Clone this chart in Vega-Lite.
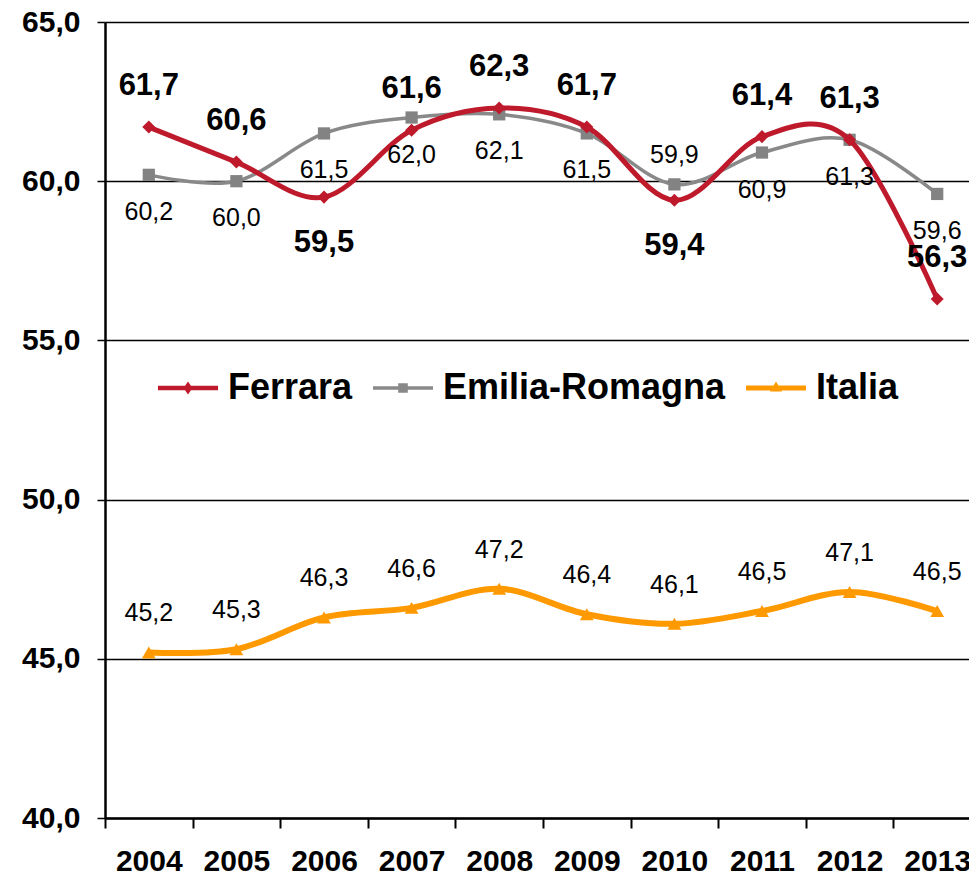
{
  "$schema": "https://vega.github.io/schema/vega-lite/v6.json",
  "width": 864,
  "height": 796,
  "autosize": {"type": "none"},
  "padding": {"left": 105, "top": 22, "right": 0, "bottom": 63},
  "background": "white",
  "config": {
    "locale": {"number": {"decimal": ",", "thousands": ".", "grouping": [3], "currency": ["", " €"]}},
    "view": {"stroke": null},
    "font": "Liberation Sans"
  },
  "data": {
    "values": [
      {"serie": "Italia", "anno": "2004", "valore": 45.2},
      {"serie": "Italia", "anno": "2005", "valore": 45.3},
      {"serie": "Italia", "anno": "2006", "valore": 46.3},
      {"serie": "Italia", "anno": "2007", "valore": 46.6},
      {"serie": "Italia", "anno": "2008", "valore": 47.2},
      {"serie": "Italia", "anno": "2009", "valore": 46.4},
      {"serie": "Italia", "anno": "2010", "valore": 46.1},
      {"serie": "Italia", "anno": "2011", "valore": 46.5},
      {"serie": "Italia", "anno": "2012", "valore": 47.1},
      {"serie": "Italia", "anno": "2013", "valore": 46.5},
      {"serie": "Emilia-Romagna", "anno": "2004", "valore": 60.2},
      {"serie": "Emilia-Romagna", "anno": "2005", "valore": 60.0},
      {"serie": "Emilia-Romagna", "anno": "2006", "valore": 61.5},
      {"serie": "Emilia-Romagna", "anno": "2007", "valore": 62.0},
      {"serie": "Emilia-Romagna", "anno": "2008", "valore": 62.1},
      {"serie": "Emilia-Romagna", "anno": "2009", "valore": 61.5},
      {"serie": "Emilia-Romagna", "anno": "2010", "valore": 59.9},
      {"serie": "Emilia-Romagna", "anno": "2011", "valore": 60.9},
      {"serie": "Emilia-Romagna", "anno": "2012", "valore": 61.3},
      {"serie": "Emilia-Romagna", "anno": "2013", "valore": 59.6},
      {"serie": "Ferrara", "anno": "2004", "valore": 61.7},
      {"serie": "Ferrara", "anno": "2005", "valore": 60.6},
      {"serie": "Ferrara", "anno": "2006", "valore": 59.5},
      {"serie": "Ferrara", "anno": "2007", "valore": 61.6},
      {"serie": "Ferrara", "anno": "2008", "valore": 62.3},
      {"serie": "Ferrara", "anno": "2009", "valore": 61.7},
      {"serie": "Ferrara", "anno": "2010", "valore": 59.4},
      {"serie": "Ferrara", "anno": "2011", "valore": 61.4},
      {"serie": "Ferrara", "anno": "2012", "valore": 61.3},
      {"serie": "Ferrara", "anno": "2013", "valore": 56.3}
    ]
  },
  "encoding": {
    "x": {
      "field": "anno", "type": "ordinal",
      "scale": {"type": "band", "paddingInner": 0, "paddingOuter": 0, "range": [0, 876]},
      "axis": {
        "title": null, "labelAngle": 0, "tickBand": "extent",
        "labelFontSize": 30, "labelFontWeight": "bold", "labelColor": "black",
        "labelFont": "Liberation Sans",
        "domainColor": "black", "domainWidth": 2.5,
        "tickColor": "black", "tickWidth": 2, "tickSize": 10,
        "labelPadding": 18, "grid": false
      }
    },
    "y": {
      "field": "valore", "type": "quantitative",
      "scale": {"domain": [40, 65], "nice": false, "zero": false},
      "axis": {
        "title": null, "values": [40, 45, 50, 55, 60, 65], "format": ".1f",
        "labelFontSize": 30, "labelFontWeight": "bold", "labelColor": "black",
        "labelFont": "Liberation Sans",
        "domainColor": "black", "domainWidth": 2.5,
        "tickColor": "black", "tickWidth": 1.5, "tickSize": 8,
        "labelPadding": 17,
        "grid": true, "gridColor": "black", "gridWidth": 1.5, "gridOpacity": 1
      }
    }
  },
  "layer": [
    {
      "transform": [{"filter": {"field": "serie", "equal": "Italia"}}],
      "mark": {"type": "line", "color": "#FF9900", "strokeWidth": 6, "interpolate": "cardinal"}
    },
    {
      "transform": [{"filter": {"field": "serie", "equal": "Italia"}}],
      "mark": {"type": "point", "shape": "triangle-up", "filled": true, "color": "#FF9900", "size": 190, "opacity": 1}
    },
    {
      "transform": [{"filter": {"field": "serie", "equal": "Emilia-Romagna"}}],
      "mark": {"type": "line", "color": "#898989", "strokeWidth": 3.5, "interpolate": "cardinal"}
    },
    {
      "transform": [{"filter": {"field": "serie", "equal": "Emilia-Romagna"}}],
      "mark": {"type": "point", "shape": "square", "filled": true, "color": "#838383", "size": 150, "opacity": 1}
    },
    {
      "transform": [{"filter": {"field": "serie", "equal": "Ferrara"}}],
      "mark": {"type": "line", "color": "#BE1A2C", "strokeWidth": 5, "interpolate": "cardinal"}
    },
    {
      "transform": [{"filter": {"field": "serie", "equal": "Ferrara"}}],
      "mark": {"type": "point", "shape": "diamond", "filled": true, "color": "#BE1A2C", "size": 170, "opacity": 1}
    },
    {
      "transform": [{"filter": {"and": [{"field": "serie", "equal": "Ferrara"}, {"not": {"field": "anno", "oneOf": ["2006", "2010"]}}]}}],
      "mark": {"type": "text", "dy": -41, "fontSize": 31, "fontWeight": "bold", "color": "black", "baseline": "middle", "align": "center"},
      "encoding": {"text": {"field": "valore", "type": "quantitative", "format": ".1f"}}
    },
    {
      "transform": [{"filter": {"and": [{"field": "serie", "equal": "Ferrara"}, {"field": "anno", "oneOf": ["2006", "2010"]}]}}],
      "mark": {"type": "text", "dy": 46, "fontSize": 31, "fontWeight": "bold", "color": "black", "baseline": "middle", "align": "center"},
      "encoding": {"text": {"field": "valore", "type": "quantitative", "format": ".1f"}}
    },
    {
      "transform": [{"filter": {"and": [{"field": "serie", "equal": "Emilia-Romagna"}, {"not": {"field": "anno", "oneOf": ["2010"]}}]}}],
      "mark": {"type": "text", "dy": 37, "fontSize": 25, "color": "black", "baseline": "middle", "align": "center"},
      "encoding": {"text": {"field": "valore", "type": "quantitative", "format": ".1f"}}
    },
    {
      "transform": [{"filter": {"and": [{"field": "serie", "equal": "Emilia-Romagna"}, {"field": "anno", "oneOf": ["2010"]}]}}],
      "mark": {"type": "text", "dy": -29, "fontSize": 25, "color": "black", "baseline": "middle", "align": "center"},
      "encoding": {"text": {"field": "valore", "type": "quantitative", "format": ".1f"}}
    },
    {
      "transform": [{"filter": {"field": "serie", "equal": "Italia"}}],
      "mark": {"type": "text", "dy": -39, "fontSize": 25, "color": "black", "baseline": "middle", "align": "center"},
      "encoding": {"text": {"field": "valore", "type": "quantitative", "format": ".1f"}}
    },
    {
      "mark": {"type": "point", "filled": true, "opacity": 0, "size": 10},
      "encoding": {
        "fill": {
          "field": "serie", "type": "nominal",
          "scale": {"domain": ["Ferrara", "Emilia-Romagna", "Italia"], "range": ["#BE1A2C", "#898989", "#FF9900"]},
          "legend": {
            "orient": "none", "legendX": 53, "legendY": 336, "direction": "horizontal",
            "title": null, "padding": 0,
            "labelFontSize": 36, "labelFontWeight": "bold", "labelColor": "black", "labelFont": "Liberation Sans",
            "labelLimit": 600, "labelOffset": 10, "columnPadding": 20,
            "symbolSize": 3600, "symbolStrokeWidth": 0, "symbolOpacity": 1
          }
        },
        "shape": {
          "field": "serie", "type": "nominal",
          "scale": {
            "domain": ["Ferrara", "Emilia-Romagna", "Italia"],
            "range": [
              "M-1,-0.075L1,-0.075L1,0.075L-1,0.075Z M0,-0.22L0.15,0L0,0.22L-0.15,0Z",
              "M-1,-0.055L1,-0.055L1,0.055L-1,0.055Z M-0.16,-0.16L0.16,-0.16L0.16,0.16L-0.16,0.16Z",
              "M-1,-0.08L1,-0.08L1,0.08L-1,0.08Z M0,-0.22L0.2,0.12L-0.2,0.12Z"
            ]
          },
          "legend": {
            "orient": "none", "legendX": 53, "legendY": 336, "direction": "horizontal",
            "title": null, "padding": 0,
            "labelFontSize": 36, "labelFontWeight": "bold", "labelColor": "black", "labelFont": "Liberation Sans",
            "labelLimit": 600, "labelOffset": 10, "columnPadding": 20,
            "symbolSize": 3600, "symbolStrokeWidth": 0, "symbolOpacity": 1
          }
        }
      }
    }
  ]
}
